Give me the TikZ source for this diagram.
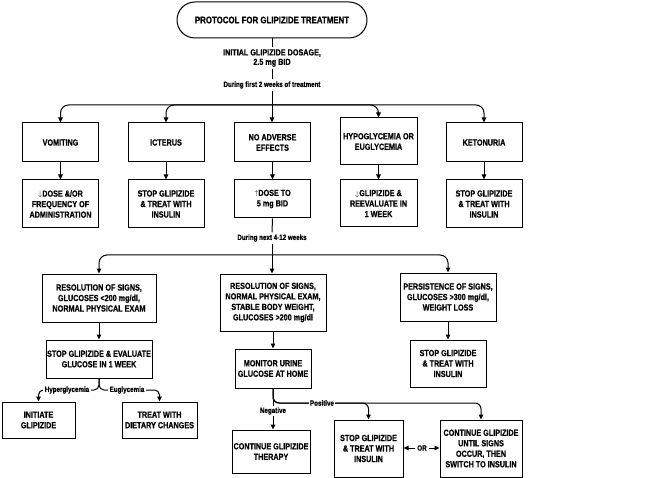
\documentclass[tikz,border=0pt]{standalone}
\usepackage{fontspec}
\setmainfont{Liberation Sans}[FakeStretch=0.82, BoldFont={Liberation Sans Bold}, BoldFeatures={FakeStretch=0.82, FakeBold=0.6}]
\usetikzlibrary{arrows.meta}
\begin{document}
\begin{tikzpicture}[x=1pt,y=-1pt,
  every path/.style={line width=1pt},
  box/.style={draw, line width=1pt, align=center, inner sep=1pt,
    font=\bfseries\fontsize{8.8}{10.5}\selectfont},
  lbl/.style={align=center, inner sep=1.5pt,
    font=\bfseries\fontsize{8.8}{9.5}\selectfont},
  sml/.style={inner sep=1.5pt, font=\bfseries\fontsize{7.6}{8}\selectfont},
  onl/.style={sml, fill=white},
  arr/.style={-{Triangle[width=4.5pt,length=5pt]}},
  rc/.style={rounded corners=8pt}]
\useasboundingbox (0,0) rectangle (650,478);
\fill[white] (0,0) rectangle (650,478);
% top
\node[draw, line width=1pt, rounded corners=18pt, minimum width=190pt, minimum height=36pt,
  font=\bfseries\fontsize{9.6}{11}\selectfont] (title) at (272,20) {PROTOCOL FOR GLIPIZIDE TREATMENT};
\node[lbl] (init) at (272,58) {INITIAL GLIPIZIDE DOSAGE,\\2.5 mg BID};
\node[sml] (dur1) at (272,85) {During first 2 weeks of treatment};
\coordinate (j1) at (272,105);
% row 1
\node[box, minimum width=76pt, minimum height=39pt] (vom) at (60.5,142.5) {VOMITING};
\node[box, minimum width=76pt, minimum height=39pt] (ict) at (166,142.5) {ICTERUS};
\node[box, minimum width=76pt, minimum height=39pt] (noad) at (272.5,142.5) {NO ADVERSE\\EFFECTS};
\node[box, minimum width=77pt, minimum height=47pt] (hypo) at (378.5,141.5) {HYPOGLYCEMIA OR\\EUGLYCEMIA};
\node[box, minimum width=76pt, minimum height=39pt] (ket) at (484,142.5) {KETONURIA};
% row 2
\node[box, minimum width=76pt, minimum height=48pt] (dose) at (60.5,204) {{\scriptsize$\downarrow$}DOSE \&/OR\\FREQUENCY OF\\ADMINISTRATION};
\node[box, minimum width=76pt, minimum height=48pt] (stopa) at (166,204) {STOP GLIPIZIDE\\\& TREAT WITH\\INSULIN};
\node[box, minimum width=76pt, minimum height=38pt] (dosef) at (272.5,199) {{\scriptsize$\uparrow$}DOSE TO\\5 mg BID};
\node[box, minimum width=77pt, minimum height=47pt] (gliz) at (378.5,203.5) {{\scriptsize$\downarrow$}GLIPIZIDE \&\\REEVALUATE IN\\1 WEEK};
\node[box, minimum width=76pt, minimum height=48pt] (stopb) at (484,204) {STOP GLIPIZIDE\\\& TREAT WITH\\INSULIN};
\node[sml] (dur2) at (272,238) {During next 4-12 weeks};
\coordinate (j2) at (272,255);
% row 3
\node[box, minimum width=114pt, minimum height=48pt] (resa) at (99,298) {RESOLUTION OF SIGNS,\\GLUCOSES <200 mg/dl,\\NORMAL PHYSICAL EXAM};
\node[box, minimum width=106pt, minimum height=57pt] (resb) at (273,302.5) {RESOLUTION OF SIGNS,\\NORMAL PHYSICAL EXAM,\\STABLE BODY WEIGHT,\\GLUCOSES >200 mg/dl};
\node[box, minimum width=96pt, minimum height=48pt] (pers) at (448,297) {PERSISTENCE OF SIGNS,\\GLUCOSES >300 mg/dl,\\WEIGHT LOSS};
% row 4
\node[box, minimum width=106pt, minimum height=38pt] (eval) at (99,359) {STOP GLIPIZIDE \& EVALUATE\\GLUCOSE IN 1 WEEK};
\node[box, minimum width=76pt, minimum height=39pt] (mon) at (273,368.5) {MONITOR URINE\\GLUCOSE AT HOME};
\node[box, minimum width=76pt, minimum height=47pt] (stopc) at (448,363.5) {STOP GLIPIZIDE\\\& TREAT WITH\\INSULIN};
% row 5
\node[box, minimum width=73pt, minimum height=36pt] (initg) at (38.5,420) {INITIATE\\GLIPIZIDE};
\node[box, minimum width=75pt, minimum height=36pt] (diet) at (159.5,420) {TREAT WITH\\DIETARY CHANGES};
\node[box, minimum width=78pt, minimum height=43pt] (cont) at (271,451.5) {CONTINUE GLIPIZIDE\\THERAPY};
\node[box, minimum width=69pt, minimum height=57pt] (stopd) at (368.5,448.5) {STOP GLIPIZIDE\\\& TREAT WITH\\INSULIN};
\node[box, minimum width=82pt, minimum height=57pt] (cont2) at (481,448.5) {CONTINUE GLIPIZIDE\\UNTIL SIGNS\\OCCUR, THEN\\SWITCH TO INSULIN};
% connectors top
\draw (title.south) -- (init.north);
\draw (init.south) -- (dur1.north);
\draw (dur1.south) -- (j1);
\draw[arr, rc] (j1) -| (vom.north);
\draw[arr, rc] (j1) -| (ict.north);
\draw[arr] (j1) -- (j1 |- noad.north);
\draw[arr, rc] (j1) -| (hypo.north);
\draw[arr, rc] (j1) -| (ket.north);
\draw[arr] (vom.south) -- (dose.north);
\draw[arr] (ict.south) -- (stopa.north);
\draw[arr] (noad.south) -- (dosef.north);
\draw[arr] (hypo.south) -- (gliz.north);
\draw[arr] (ket.south) -- (stopb.north);
\draw (dosef.south) -- (dur2.north);
\draw (dur2.south) -- (j2);
\draw[arr, rc] (j2) -| (resa.north);
\draw[arr] (j2) -- (j2 |- resb.north);
\draw[arr, rc] (j2) -| (pers.north);
\draw[arr] (resa.south) -- (eval.north);
\draw[arr] (resb.south) -- (resb.south |- mon.north);
\draw[arr] (pers.south) -- (stopc.north);
% hyper / eugly
\coordinate (bj) at (99,390);
\draw[arr, rounded corners=5pt] (eval.south) -- (bj) -| (initg.north);
\draw[arr, rounded corners=5pt] (eval.south) -- (bj) -| (diet.north);
\node[onl] (hyl) at (67,390) {Hyperglycemia};
\node[onl] (eul) at (127,390) {Euglycemia};
% monitor branches
\coordinate (py) at (0,403);
\draw[arr] (mon.south) -- (mon.south |- cont.north);
\node[onl] (neg) at (273,411) {Negative};
\draw[arr, rounded corners=6pt] (mon.south) |- (stopd.north |- py) -- (stopd.north);
\draw[arr, rounded corners=6pt] (mon.south) |- (cont2.north |- py) -- (cont2.north);
\node[onl] (posl) at (322,403) {Positive};
\node[sml] (orn) at (422,448) {OR};
\draw[arr] (orn.west) -- (stopd.east |- orn);
\draw[arr] (orn.east) -- (cont2.west |- orn);
\end{tikzpicture}
\end{document}
